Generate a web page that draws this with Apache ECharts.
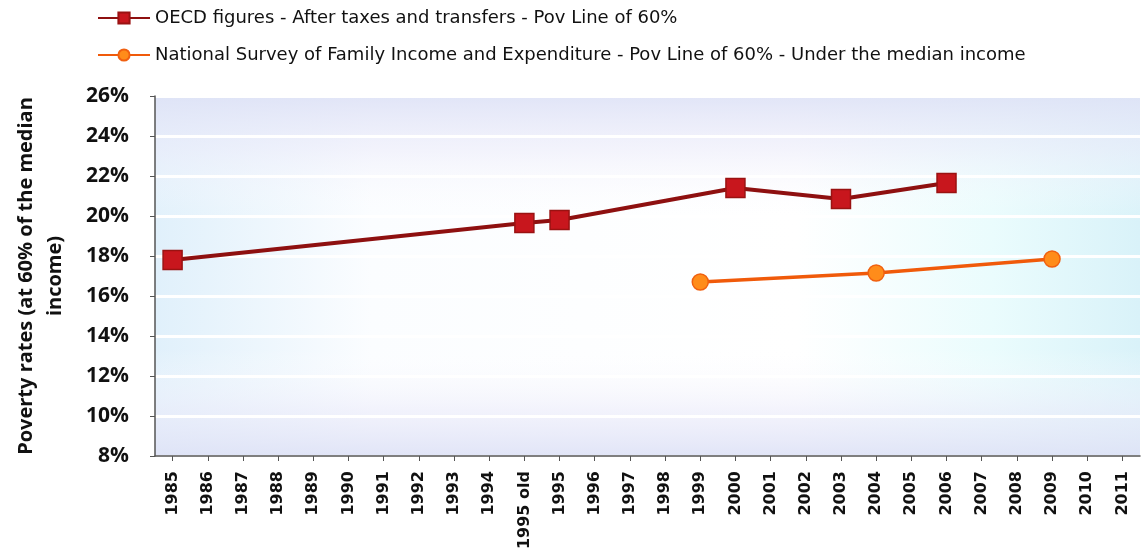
<!DOCTYPE html>
<html>
<head>
<meta charset="utf-8">
<script src="https://cdn.jsdelivr.net/npm/echarts@6/dist/echarts.min.js"></script>
<style>
html, body { margin: 0; padding: 0; background: #fff; }
#main { width: 1143px; height: 556px; }
</style>
</head>
<body>
<div id="main"></div>
<script>
var years = ['1985', '1986', '1987', '1988', '1989', '1990', '1991', '1992', '1993', '1994',
    '1995 old', '1995', '1996', '1997', '1998', '1999', '2000', '2001', '2002', '2003',
    '2004', '2005', '2006', '2007', '2008', '2009', '2010', '2011'];

// poverty rates in %, null where no figure
var oecd = [17.8, null, null, null, null, null, null, null, null, null,
    19.65, 19.8, null, null, null, null, 21.4, null, null, 20.85,
    null, null, 21.65, null, null, null, null, null];
var survey = [null, null, null, null, null, null, null, null, null, null,
    null, null, null, null, null, 16.7, null, null, null, null,
    17.15, null, null, null, null, 17.85, null, null];

var names = ['OECD figures - After taxes and transfers - Pov Line of 60%',
    'National Survey of Family Income and Expenditure - Pov Line of 60% - Under the median income'];

var myChart = echarts.init(document.getElementById('main'));

// plot area box, shared by grid and the background shading
var gl = 155, gt = 96, gw = 985, gh = 360;

option = {
    backgroundColor: '#fff',
    graphic: [
        {
            type: 'rect', left: gl, top: gt, z: -10, silent: true,
            shape: { width: gw, height: gh },
            style: {
                fill: {
                    type: 'linear', x: 0, y: 0, x2: 1, y2: 0,
                    colorStops: [
                        { offset: 0, color: '#e0f0fb' },
                        { offset: 0.22, color: '#fbfdff' },
                        { offset: 0.65, color: '#ffffff' },
                        { offset: 0.85, color: '#eafcfd' },
                        { offset: 1, color: '#d9f2f9' }
                    ]
                }
            }
        },
        {
            type: 'rect', left: gl, top: gt, z: -9, silent: true,
            shape: { width: gw, height: gh },
            style: {
                fill: {
                    type: 'linear', x: 0, y: 0, x2: 0, y2: 1,
                    colorStops: [
                        { offset: 0, color: 'rgba(222,226,246,0.9)' },
                        { offset: 0.15, color: 'rgba(236,236,250,0.6)' },
                        { offset: 0.35, color: 'rgba(255,255,255,0)' },
                        { offset: 0.7, color: 'rgba(255,255,255,0)' },
                        { offset: 0.87, color: 'rgba(236,236,250,0.6)' },
                        { offset: 1, color: 'rgba(222,226,246,0.9)' }
                    ]
                }
            }
        }
    ],
    legend: {
        orient: 'vertical',
        left: 92,
        top: 4,
        itemGap: 19,
        itemWidth: 52,
        itemHeight: 14,
        textStyle: { fontSize: 18, color: '#111', fontFamily: 'DejaVu Sans' },
        data: names
    },
    grid: {
        left: gl,
        top: gt,
        width: gw,
        height: gh
    },
    xAxis: {
        type: 'category',
        data: years,
        boundaryGap: true,
        axisLine: { lineStyle: { color: '#555', width: 1.5 } },
        axisTick: { show: true, alignWithLabel: true, lineStyle: { color: '#555' } },
        axisLabel: {
            rotate: 90,
            interval: 0,
            fontSize: 16,
            fontWeight: 'bold',
            color: '#111',
            fontFamily: 'DejaVu Sans',
            margin: 15
        }
    },
    yAxis: {
        type: 'value',
        min: 8,
        max: 26,
        interval: 2,
        name: 'Poverty rates (at 60% of the median\nincome)',
        nameLocation: 'middle',
        nameGap: 85,
        nameTextStyle: { fontSize: 20, fontWeight: 'bold', color: '#111', lineHeight: 29, fontFamily: 'Open Sans' },
        axisLine: { show: true, lineStyle: { color: '#555', width: 1.5 } },
        axisTick: { show: true, lineStyle: { color: '#555' } },
        axisLabel: {
            formatter: '{value}%',
            fontSize: 21,
            fontWeight: 'bold',
            color: '#111',
            fontFamily: 'Open Sans',
            margin: 26
        },
        splitLine: { lineStyle: { color: '#ffffff', width: 3 } }
    },
    series: [
        {
            name: names[0],
            type: 'line',
            data: oecd,
            connectNulls: true,
            symbol: 'rect',
            symbolSize: 19,
            lineStyle: { color: '#8e1010', width: 4 },
            itemStyle: { color: '#c8161d', borderColor: '#9a1212', borderWidth: 1.5 }
        },
        {
            name: names[1],
            type: 'line',
            data: survey,
            connectNulls: true,
            symbol: 'circle',
            symbolSize: 16,
            lineStyle: { color: '#f05a0a', width: 3.5 },
            itemStyle: { color: '#ff8c1a', borderColor: '#f06010', borderWidth: 1.5 }
        }
    ]
};

myChart.setOption(option);
</script>
</body>
</html>
